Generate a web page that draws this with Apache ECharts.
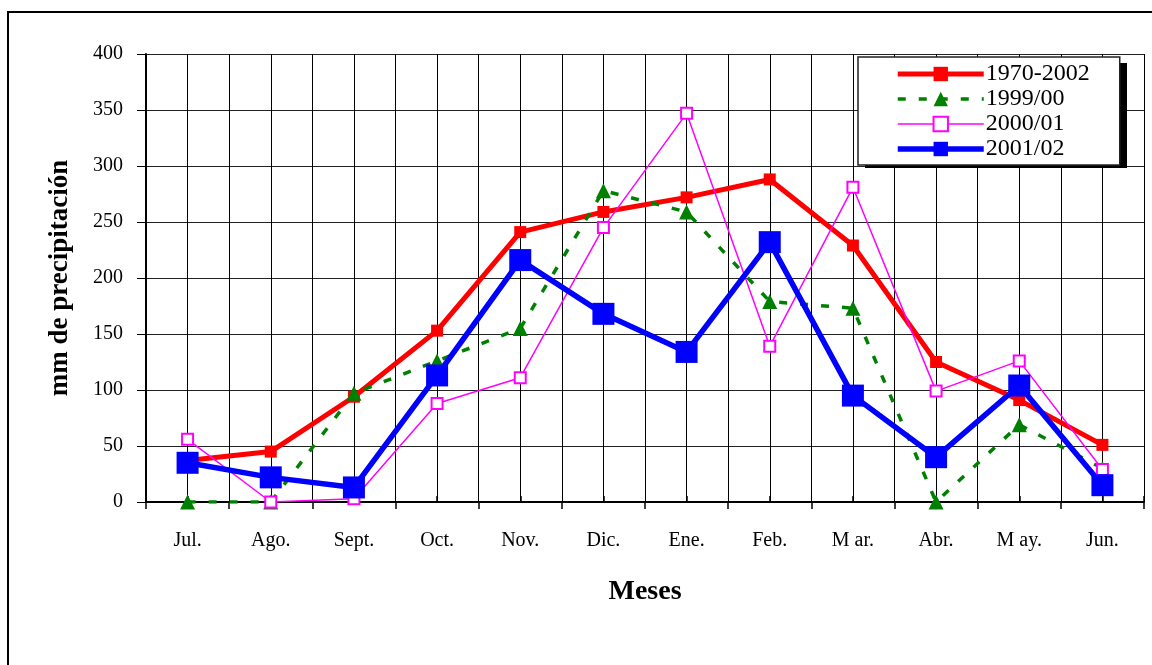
<!DOCTYPE html>
<html>
<head>
    <meta charset="utf-8">
    <title>Precipitación mensual</title>
    <script src="https://cdn.jsdelivr.net/npm/echarts@6/dist/echarts.min.js"></script>
    <style>
        html, body { margin: 0; padding: 0; background: #fff; }
        #main { width: 1152px; height: 665px; }
    </style>
</head>
<body>
<div id="main"></div>
<script type="text/javascript">
    // meses (julio a junio)
    var meses = ['Jul.', 'Ago.', 'Sept.', 'Oct.', 'Nov.', 'Dic.', 'Ene.', 'Feb.', 'M ar.', 'Abr.', 'M ay.', 'Jun.'];

    // mm de precipitación
    var media7002 = [37, 45, 94, 153, 241, 259, 272, 288, 229, 125, 91, 51];
    var anio9900 = [0, 0, 97, 126, 155, 278, 259, 179, 173, 0, 69, 30];
    var anio0001 = [56, 0, 3, 88, 111, 245, 347, 139, 281, 99, 126, 29];
    var anio0102 = [35, 22, 13, 113, 216, 168, 134, 232, 95, 40, 104, 15];

    var yTicks = { min: 0, max: 400, interval: 50 };

    var serif = 'Liberation Serif';

    // medias categorías para la rejilla vertical
    var halfCats = [];
    for (var i = 0; i < meses.length * 2; i++) {
        halfCats.push('');
    }

    var chart = echarts.init(document.getElementById('main'));

    var option = {
        backgroundColor: '#fff',
        animation: false,
        graphic: [{
            type: 'rect',
            z: 0,
            shape: { x: 8, y: 12, width: 1170, height: 700 },
            style: { fill: 'none', stroke: '#000', lineWidth: 2 }
        }, {
            type: 'rect',
            z: 100,
            shape: { x: 865, y: 63, width: 262, height: 105 },
            style: { fill: '#000' }
        }],
        grid: {
            left: 146,
            right: 8,
            top: 54,
            bottom: 163
        },
        legend: {
            orient: 'vertical',
            left: 858,
            top: 57,
            z: 200,
            padding: [5, 30, 4, 37],
            itemGap: 1,
            itemWidth: 86,
            itemHeight: 18,
            backgroundColor: '#fff',
            borderColor: '#222',
            borderWidth: 1.5,
            borderRadius: 0,
            textStyle: {
                fontFamily: serif,
                fontSize: 24,
                color: '#000',
                padding: [0, 0, 0, -3]
            },
            data: [
                { name: '1970-2002', lineStyle: { width: 5 } },
                { name: '1999/00', lineStyle: { width: 3.5 } },
                { name: '2000/01', lineStyle: { width: 1.5 } },
                { name: '2001/02', lineStyle: { width: 5.5 } }
            ]
        },
        xAxis: [{
            type: 'category',
            data: meses,
            boundaryGap: true,
            axisLine: { lineStyle: { color: '#000', width: 2 } },
            axisTick: { show: true, inside: false, length: 7, lineStyle: { color: '#000', width: 1.5 } },
            splitLine: { show: false },
            axisLabel: {
                fontFamily: serif,
                fontSize: 20,
                color: '#000',
                margin: 29
            },
            name: 'Meses',
            nameLocation: 'middle',
            nameGap: 76,
            nameTextStyle: {
                fontFamily: serif,
                fontSize: 28,
                fontWeight: 'bold',
                color: '#000'
            }
        }, {
            type: 'category',
            data: halfCats,
            boundaryGap: true,
            position: 'bottom',
            axisLine: { show: false },
            axisLabel: { show: false },
            axisTick: {
                show: true,
                inside: true,
                length: 6,
                interval: function (index) { return index % 2 === 1; },
                lineStyle: { color: '#000', width: 1.5 }
            },
            splitLine: {
                show: true,
                interval: 0,
                lineStyle: { color: '#000', width: 1 }
            }
        }],
        yAxis: {
            type: 'value',
            min: yTicks.min,
            max: yTicks.max,
            interval: yTicks.interval,
            axisLine: { show: true, lineStyle: { color: '#000', width: 2 } },
            axisTick: { show: true, inside: false, length: 9, lineStyle: { color: '#000', width: 1 } },
            splitLine: { show: true, lineStyle: { color: '#222', width: 1 } },
            axisLabel: {
                fontFamily: serif,
                fontSize: 20,
                color: '#000',
                margin: 23
            },
            name: 'mm de precipitación',
            nameLocation: 'middle',
            nameGap: 72,
            nameTextStyle: {
                fontFamily: serif,
                fontSize: 27,
                fontWeight: 'bold',
                color: '#000'
            }
        },
        series: [{
            name: '1970-2002',
            type: 'line',
            data: media7002,
            symbol: 'rect',
            symbolSize: 12,
            color: '#FF0000',
            lineStyle: { color: '#FF0000', width: 5 },
            itemStyle: { color: '#FF0000' }
        }, {
            name: '1999/00',
            type: 'line',
            data: anio9900,
            symbol: 'triangle',
            symbolSize: 15,
            color: '#008000',
            lineStyle: { color: '#008000', width: 3.5, type: [8, 13] },
            itemStyle: { color: '#008000' }
        }, {
            name: '2000/01',
            type: 'line',
            data: anio0001,
            symbol: 'emptyRect',
            symbolSize: 11,
            color: '#FF00FF',
            lineStyle: { color: '#FF00FF', width: 1.5 },
            itemStyle: { color: '#FF00FF', borderColor: '#FF00FF', borderWidth: 1.5 }
        }, {
            name: '2001/02',
            type: 'line',
            data: anio0102,
            symbol: 'rect',
            symbolSize: 22,
            color: '#0000FF',
            lineStyle: { color: '#0000FF', width: 5.5 },
            itemStyle: { color: '#0000FF' }
        }]
    };

    chart.setOption(option);
</script>
</body>
</html>
